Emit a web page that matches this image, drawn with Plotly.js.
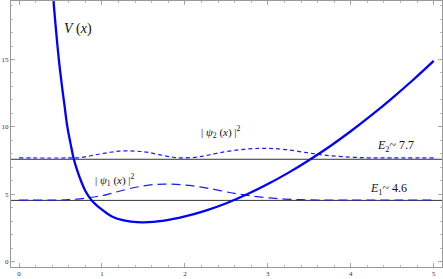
<!DOCTYPE html>
<html>
<head>
<meta charset="utf-8">
<script src="https://cdn.plot.ly/plotly-3.0.1.min.js"></script>
<style>
  html, body { margin: 0; padding: 0; background: #fff; }
  #chart { width: 443px; height: 279px; }
</style>
</head>
<body>
<div id="chart"></div>
<script>
// potential V(x)
var v_x = [0.40, 0.42, 0.45, 0.48, 0.52, 0.55, 0.58, 0.62, 0.66, 0.70, 0.75, 0.80, 0.877, 1.0, 1.12, 1.25, 1.35, 1.5,
           1.75, 2.0, 2.25, 2.5, 2.75, 3.0, 3.25, 3.5, 3.75, 4.0, 4.25, 4.5, 4.75, 5.0];
var v_y = [20.6, 19.0, 16.9, 15.0, 12.9, 11.5, 10.1, 8.8, 7.62, 6.8, 5.95, 5.25, 4.55, 3.86, 3.36, 3.08, 2.97, 2.92,
           3.05, 3.36, 3.79, 4.34, 5.00, 5.76, 6.61, 7.55, 8.57, 9.68, 10.87, 12.14, 13.48, 14.9];

// energy levels
var levels = [4.55, 7.6];
var level_x = [-0.1, 5.1];

// |psi1|^2 shifted up to E1
var psi1_x = [0, 0.5, 0.6, 0.7, 0.8, 0.9, 1.0, 1.1, 1.22, 1.35, 1.5, 1.62, 1.75, 1.9, 2.05, 2.2, 2.35, 2.5, 2.65, 2.8,
              3.0, 3.2, 3.4, 3.6, 3.8, 5.0];
var psi1_y = [4.58, 4.58, 4.6, 4.65, 4.72, 4.8, 4.9, 5.05, 5.25, 5.45, 5.62, 5.72, 5.76, 5.74, 5.66, 5.53, 5.37, 5.18,
              5.02, 4.88, 4.74, 4.65, 4.6, 4.58, 4.58, 4.58];

// |psi2|^2 shifted up to E2
var psi2_x = [0, 0.6, 0.74, 0.86, 0.98, 1.10, 1.20, 1.30, 1.42, 1.54, 1.70, 1.86, 1.98, 2.18, 2.42, 2.71, 2.95, 3.19,
              3.47, 3.71, 3.99, 4.2, 4.4, 5.0];
var psi2_y = [7.7, 7.7, 7.72, 7.86, 8.0, 8.12, 8.2, 8.23, 8.2, 8.13, 7.93, 7.75, 7.7, 7.79, 8.09, 8.34, 8.41, 8.34,
              8.09, 7.89, 7.76, 7.71, 7.7, 7.7];

var serif = 'Liberation Serif, Times New Roman, serif';

var traces = [
  {x: level_x, y: [levels[0], levels[0]], mode: 'lines', line: {color: '#333', width: 1}, hoverinfo: 'skip'},
  {x: level_x, y: [levels[1], levels[1]], mode: 'lines', line: {color: '#333', width: 1}, hoverinfo: 'skip'},
  {x: psi1_x, y: psi1_y, mode: 'lines', line: {color: '#1a1aff', width: 1.2, dash: '9px,5px', shape: 'spline'}},
  {x: psi2_x, y: psi2_y, mode: 'lines', line: {color: '#1a1aff', width: 1.2, dash: '4px,3px', shape: 'spline'}},
  {x: v_x, y: v_y, mode: 'lines', line: {color: '#0000ff', width: 2.3, shape: 'spline'}}
];

var layout = {
  width: 443,
  height: 279,
  showlegend: false,
  paper_bgcolor: '#fff',
  plot_bgcolor: '#fff',
  margin: {l: 11, r: 1, t: 1, b: 12},
  font: {family: serif, color: '#222'},
  xaxis: {
    range: [-0.097, 5.1],
    showgrid: false, zeroline: false,
    showline: true, linecolor: '#999', linewidth: 1, mirror: 'ticks',
    ticks: 'inside', ticklen: 4, tickcolor: '#999', tickwidth: 0.8,
    tickmode: 'array', tickvals: [0, 1, 2, 3, 4, 5],
    tickfont: {size: 7, family: serif, color: '#333'},
    minor: {dtick: 0.2, ticks: 'inside', ticklen: 2, tickcolor: '#aaa', showgrid: false}
  },
  yaxis: {
    range: [-0.39, 19.34],
    showgrid: false, zeroline: false,
    showline: true, linecolor: '#999', linewidth: 1, mirror: 'ticks',
    ticks: 'inside', ticklen: 4, tickcolor: '#999', tickwidth: 0.8,
    tickmode: 'array', tickvals: [0, 5, 10, 15],
    tickfont: {size: 7, family: serif, color: '#333'},
    minor: {dtick: 1, ticks: 'inside', ticklen: 2, tickcolor: '#aaa', showgrid: false}
  },
  annotations: [
    {x: 0.71, y: 17.26, text: '<i>V</i> (<i>x</i>)', showarrow: false, font: {size: 14, family: serif, color: '#111'}},
    {x: 2.44, y: 9.6, text: '| <i>ψ</i><sub>2</sub> (<i>x</i>) |<sup>2</sup>', showarrow: false, font: {size: 11, family: serif, color: '#111'}},
    {x: 1.16, y: 6.1, text: '| <i>ψ</i><sub>1</sub> (<i>x</i>) |<sup>2</sup>', showarrow: false, font: {size: 11, family: serif, color: '#111'}},
    {x: 4.54, y: 8.6, text: '<i>E</i><sub>2</sub>~ 7.7', showarrow: false, font: {size: 12, family: serif, color: '#111'}},
    {x: 4.45, y: 5.4, text: '<i>E</i><sub>1</sub>~ 4.6', showarrow: false, font: {size: 12, family: serif, color: '#111'}}
  ]
};

Plotly.newPlot('chart', traces, layout, {displayModeBar: false, staticPlot: true});
</script>
</body>
</html>
